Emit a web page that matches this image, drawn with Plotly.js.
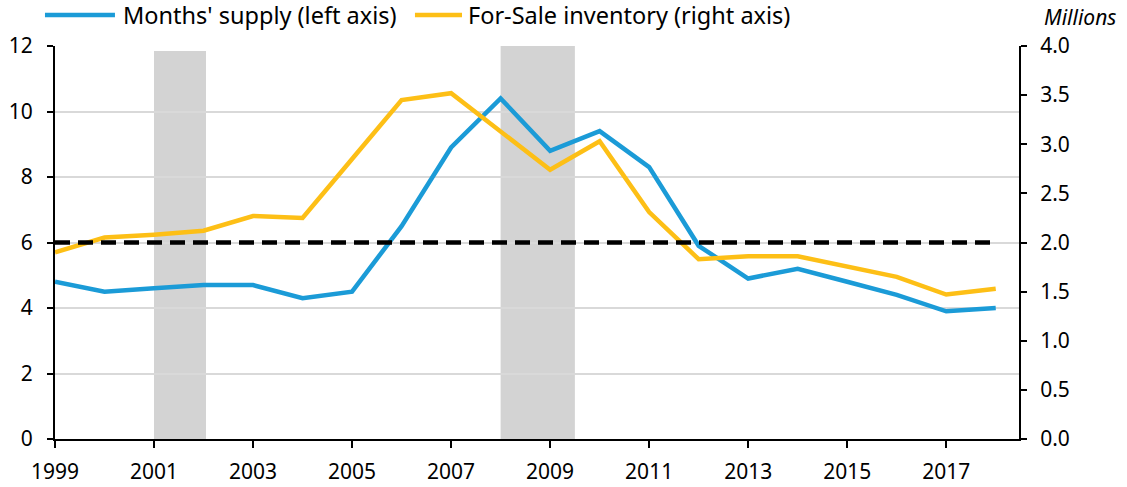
<!DOCTYPE html>
<html><head><meta charset="utf-8">
<script src="https://cdn.plot.ly/plotly-3.0.1.min.js"></script>
<style>html,body{margin:0;padding:0;background:#fff}</style>
</head><body><div id="chart" style="width:1127px;height:487px"></div>
<script>
const years = [1999,2000,2001,2002,2003,2004,2005,2006,2007,2008,2009,2010,2011,2012,2013,2014,2015,2016,2017,2018];
const monthsSupply = [4.8,4.5,4.6,4.7,4.7,4.3,4.5,6.5,8.9,10.4,8.8,9.4,8.3,5.9,4.9,5.2,4.8,4.4,3.9,4.0];
const inventory = [1.90,2.05,2.08,2.12,2.27,2.25,2.85,3.45,3.52,3.13,2.74,3.03,2.31,1.83,1.86,1.86,1.75,1.65,1.47,1.53];
const threshold = 6;
const recessionStart = [2001, 2008];
const recessionEnd = [2002.05, 2009.5];
const recessionTop = [11.85, 12];
const leftTicks = [0,2,4,6,8,10,12];
const rightTicks = [0,0.5,1,1.5,2,2.5,3,3.5,4];
const xTicks = [1999,2001,2003,2005,2007,2009,2011,2013,2015,2017];
const seriesNames = ["Months' supply (left axis)", "For-Sale inventory (right axis)"];
const unitLabel = "Millions";

const BLUE = '#1b9bd7', YELLOW = '#fdbf16';
const FONT = 'Noto Sans, Open Sans, sans-serif';

const traces = [
  {x: years, y: monthsSupply, type: 'scatter', mode: 'lines', name: seriesNames[0],
   line: {color: BLUE, width: 4.5}, yaxis: 'y', showlegend: false},
  {x: years, y: inventory, type: 'scatter', mode: 'lines', name: seriesNames[1],
   line: {color: YELLOW, width: 4.5}, yaxis: 'y2', showlegend: false}
];

const shapes = [];
for (let i = 0; i < recessionStart.length; i++) {
  shapes.push({type: 'rect', xref: 'x', yref: 'y', x0: recessionStart[i], x1: recessionEnd[i],
    y0: 0, y1: recessionTop[i], fillcolor: '#d3d3d3', line: {width: 0}, layer: 'below'});
}
shapes.push({type: 'line', xref: 'x', yref: 'y', x0: years[0], x1: years[years.length-1],
  y0: threshold, y1: threshold, line: {color: '#000', width: 4.5, dash: '15px,8px'}, layer: 'above'});
// legend samples
shapes.push({type: 'line', xref: 'paper', yref: 'paper', x0: -0.0104, x1: 0.0622, y0: 1.079, y1: 1.079,
  line: {color: BLUE, width: 4.5}});
shapes.push({type: 'line', xref: 'paper', yref: 'paper', x0: 0.3734, x1: 0.4222, y0: 1.079, y1: 1.079,
  line: {color: YELLOW, width: 4.5}});

const annotations = [
  {xref: 'paper', yref: 'paper', x: 0.0685, y: 1.079, xanchor: 'left', yanchor: 'middle', showarrow: false,
   text: seriesNames[0], font: {family: FONT, size: 23.5, color: '#000'}},
  {xref: 'paper', yref: 'paper', x: 0.4264, y: 1.079, xanchor: 'left', yanchor: 'middle', showarrow: false,
   text: seriesNames[1], font: {family: FONT, size: 23.5, color: '#000'}},
  {xref: 'paper', yref: 'paper', x: 1.1030, y: 1.074, xanchor: 'right', yanchor: 'middle', showarrow: false,
   text: '<i>' + unitLabel + '</i>', font: {family: FONT, size: 21, color: '#000'}}
];

const layout = {
  width: 1127, height: 487,
  margin: {l: 55, r: 108, t: 46, b: 48},
  paper_bgcolor: '#fff', plot_bgcolor: '#fff',
  font: {family: FONT, size: 21, color: '#000'},
  xaxis: {range: [1999, 2018.47], tickmode: 'array', tickvals: xTicks, ticktext: xTicks.map(String),
    showgrid: false, zeroline: false, showline: true, linecolor: '#000', linewidth: 2,
    ticks: 'outside', ticklen: 7, tickwidth: 2, tickcolor: '#000', tickfont: {size: 21},
    ticklabelstandoff: 6},
  yaxis: {range: [0, 12], tickmode: 'array', tickvals: leftTicks, ticktext: leftTicks.map(String),
    showgrid: true, gridcolor: '#d9d9d9', gridwidth: 2, zeroline: false,
    showline: true, linecolor: '#000', linewidth: 2,
    ticks: 'outside', ticklen: 6, tickwidth: 2, tickcolor: '#000', tickfont: {size: 21},
    ticklabelstandoff: 10},
  yaxis2: {range: [0, 4], overlaying: 'y', side: 'right', tickmode: 'array', tickvals: rightTicks,
    ticktext: rightTicks.map(v => v.toFixed(1)), showgrid: false, zeroline: false,
    showline: true, linecolor: '#000', linewidth: 2,
    ticks: 'outside', ticklen: 6, tickwidth: 2, tickcolor: '#000', tickfont: {size: 21},
    ticklabelstandoff: 9},
  shapes: shapes,
  annotations: annotations,
  showlegend: false
};

Plotly.newPlot('chart', traces, layout, {displayModeBar: false, staticPlot: true});
</script>
</body></html>
